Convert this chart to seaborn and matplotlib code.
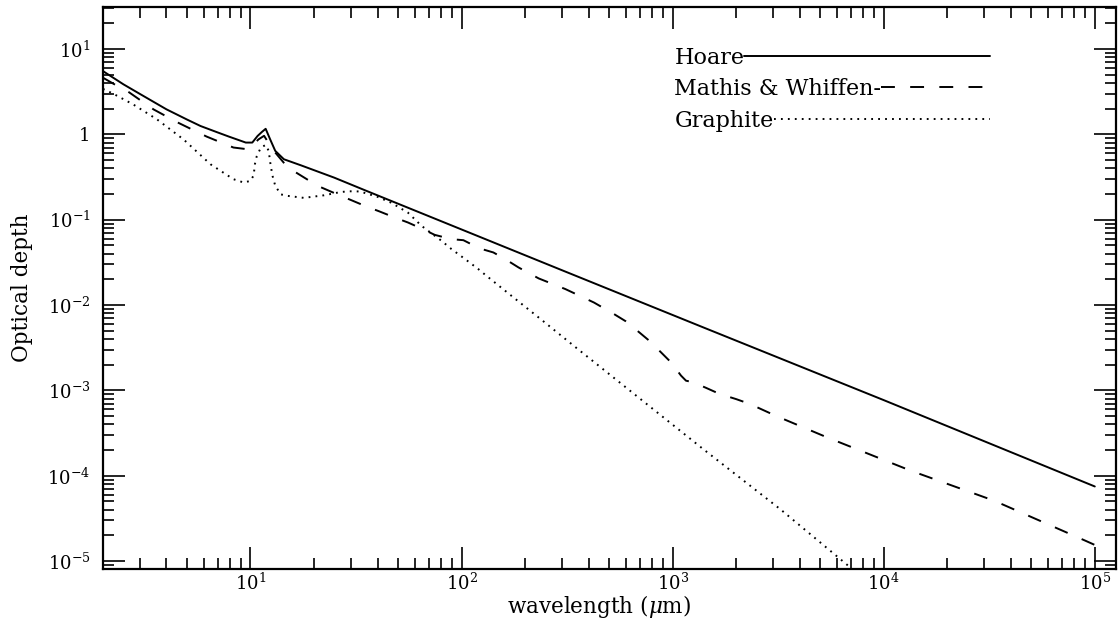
import numpy as np
import pandas as pd
import matplotlib
matplotlib.use("Agg")
import matplotlib.pyplot as plt
import seaborn as sns
from matplotlib.ticker import FixedLocator, FixedFormatter, LogLocator, NullFormatter

# ---------------- data ----------------
hoare_wl = [2.0, 2.5, 3.0, 4.0, 5.0, 5.8, 7.0, 7.9, 9.5, 10.2, 10.8, 11.3, 11.8,
            12.4, 13.1, 14.4, 17.3, 24.9, 36, 64.6, 300, 1390, 1.0e4, 1.0e5]
hoare_tau = [5.5, 3.85, 2.96, 1.96, 1.49, 1.25, 1.05, 0.94, 0.80, 0.80, 0.955, 1.06, 1.16,
             0.87, 0.64, 0.51, 0.434, 0.311, 0.214, 0.119, 0.0255, 5.5e-3, 7.7e-4, 7.5e-5]

mw_wl = [2.0, 2.4, 2.54, 3.47, 4.48, 6.2, 8.3, 9.6, 10.0, 10.9, 11.6, 12.7, 15, 20.8,
         26.8, 29.9, 35.3, 40.8, 48.2, 55.7, 65.6, 74.6, 89.6, 102, 122, 141.5, 161,
         186, 232, 310, 424, 527, 600, 694, 774, 880, 981, 1096, 1157, 1245, 1442,
         1668, 2003, 2318, 3105, 5370, 1.34e4, 3.34e4, 8.96e4, 1.0e5]
mw_tau = [4.6, 3.55, 3.36, 1.96, 1.39, 0.94, 0.70, 0.67, 0.70, 0.87, 0.96, 0.67, 0.41,
          0.249, 0.19, 0.17, 0.143, 0.125, 0.106, 0.0927, 0.0774, 0.0664, 0.0591,
          0.0575, 0.046, 0.0413, 0.0345, 0.0276, 0.0205, 0.0154, 0.0107, 7.85e-3,
          6.45e-3, 4.8e-3, 3.83e-3, 2.8e-3, 2.14e-3, 1.49e-3, 1.30e-3, 1.25e-3,
          1.07e-3, 9.1e-4, 7.9e-4, 6.95e-4, 5.0e-4, 2.83e-4, 1.15e-4, 5.1e-5,
          1.75e-5, 1.55e-5]

gr_wl = [2.0, 2.23, 2.78, 3.6, 4.82, 6.46, 8.3, 9.3, 10.0, 10.35, 10.5, 10.7, 11.2,
         11.8, 12.2, 12.4, 12.7, 13.1, 13.9, 15, 17.9, 22.3, 26.8, 29.4, 33, 40,
         46.4, 55.7, 64.6, 80.4, 89.6, 104, 120, 130, 176, 236, 347, 1390, 3220,
         6460, 8000]
gr_tau = [3.4, 3.0, 2.24, 1.5, 0.87, 0.446, 0.298, 0.272, 0.285, 0.33, 0.45, 0.55,
          0.70, 0.75, 0.64, 0.47, 0.33, 0.25, 0.198, 0.19, 0.18, 0.193, 0.211, 0.215,
          0.214, 0.185, 0.158, 0.121, 0.0847, 0.0565, 0.0452, 0.0345, 0.0264,
          0.0224, 0.0123, 6.9e-3, 3.2e-3, 2.07e-4, 4.1e-5, 9.8e-6, 6.3e-6]

series_names = ["Hoare", "Mathis & Whiffen-", "Graphite"]

x_ticks = [1e1, 1e2, 1e3, 1e4, 1e5]
x_ticklabels = [r"$10^{1}$", r"$10^{2}$", r"$10^{3}$", r"$10^{4}$", r"$10^{5}$"]
y_ticks = [1e-5, 1e-4, 1e-3, 1e-2, 1e-1, 1, 1e1]
y_ticklabels = [r"$10^{-5}$", r"$10^{-4}$", r"$10^{-3}$", r"$10^{-2}$",
                r"$10^{-1}$", "1", r"$10^{1}$"]

# ---------------- style ----------------
sns.set_style("white")
plt.rcParams["font.family"] = ["DejaVu Serif", "DejaVu Sans"]
plt.rcParams["mathtext.fontset"] = "dejavuserif"
plt.rcParams["lines.scale_dashes"] = False
for k in ["text.color", "axes.labelcolor", "xtick.color", "ytick.color",
          "axes.edgecolor"]:
    plt.rcParams[k] = "black"

fig = plt.figure(figsize=(11.19, 6.28), dpi=100)
ax = fig.add_axes([0.0920, 0.0947, 0.9053, 0.8942])

styles = [dict(linestyle="-", linewidth=1.4),
          dict(linestyle=(0, (10, 11)), linewidth=1.4),
          dict(linestyle=(0, (1.3, 3.7)), linewidth=1.4)]

frames = [pd.DataFrame({"wl": hoare_wl, "tau": hoare_tau}),
          pd.DataFrame({"wl": mw_wl, "tau": mw_tau}),
          pd.DataFrame({"wl": gr_wl, "tau": gr_tau})]

for df, st in zip(frames, styles):
    sns.lineplot(data=df, x="wl", y="tau", ax=ax, color="black",
                 estimator=None, sort=False, **st)

ax.set_xscale("log")
ax.set_yscale("log")
ax.set_xlim(2.0, 1.26e5)
ax.set_ylim(8.2e-6, 31)

ax.xaxis.set_major_locator(FixedLocator(x_ticks))
ax.xaxis.set_major_formatter(FixedFormatter(x_ticklabels))
ax.yaxis.set_major_locator(FixedLocator(y_ticks))
ax.yaxis.set_major_formatter(FixedFormatter(y_ticklabels))
ax.xaxis.set_minor_locator(LogLocator(base=10, subs=np.arange(2, 10), numticks=20))
ax.yaxis.set_minor_locator(LogLocator(base=10, subs=np.arange(2, 10), numticks=20))
ax.xaxis.set_minor_formatter(NullFormatter())
ax.yaxis.set_minor_formatter(NullFormatter())

ax.tick_params(which="both", direction="in", top=True, right=True,
               bottom=True, left=True, color="black", width=1.2,
               labelcolor="black")
ax.tick_params(which="major", length=16, labelsize=13)
ax.tick_params(axis="x", which="major", pad=3)
ax.tick_params(axis="y", which="major", pad=9)
ax.tick_params(which="minor", length=8)

for sp in ax.spines.values():
    sp.set_linewidth(1.6)
    sp.set_color("black")

ax.set_xlabel(r"wavelength ($\mu$m)", fontsize=15.5, color="black")
ax.set_ylabel("Optical depth", fontsize=15.5, color="black")
ax.xaxis.set_label_coords(0.49, -0.068)
ax.xaxis.label.set_verticalalignment("center")
ax.yaxis.set_label_coords(-0.080, 0.5)
ax.yaxis.label.set_verticalalignment("center")

# ---------------- legend: text followed by line sample ----------------
fig.canvas.draw()
renderer = fig.canvas.get_renderer()
row_y = [0.909, 0.854, 0.797]
x_text = 0.564
x_end = 0.876
inv = ax.transAxes.inverted()
for name, st, yy in zip(series_names, styles, row_y):
    t = ax.text(x_text, yy, name, transform=ax.transAxes, fontsize=16,
                ha="left", va="center", color="black")
    bb = t.get_window_extent(renderer=renderer)
    x0 = inv.transform((bb.x1, bb.y0))[0]
    ax.plot([x0, x_end], [yy + 0.004, yy + 0.004], transform=ax.transAxes,
            color="black", **st)

fig.savefig("out.png", dpi=100)
